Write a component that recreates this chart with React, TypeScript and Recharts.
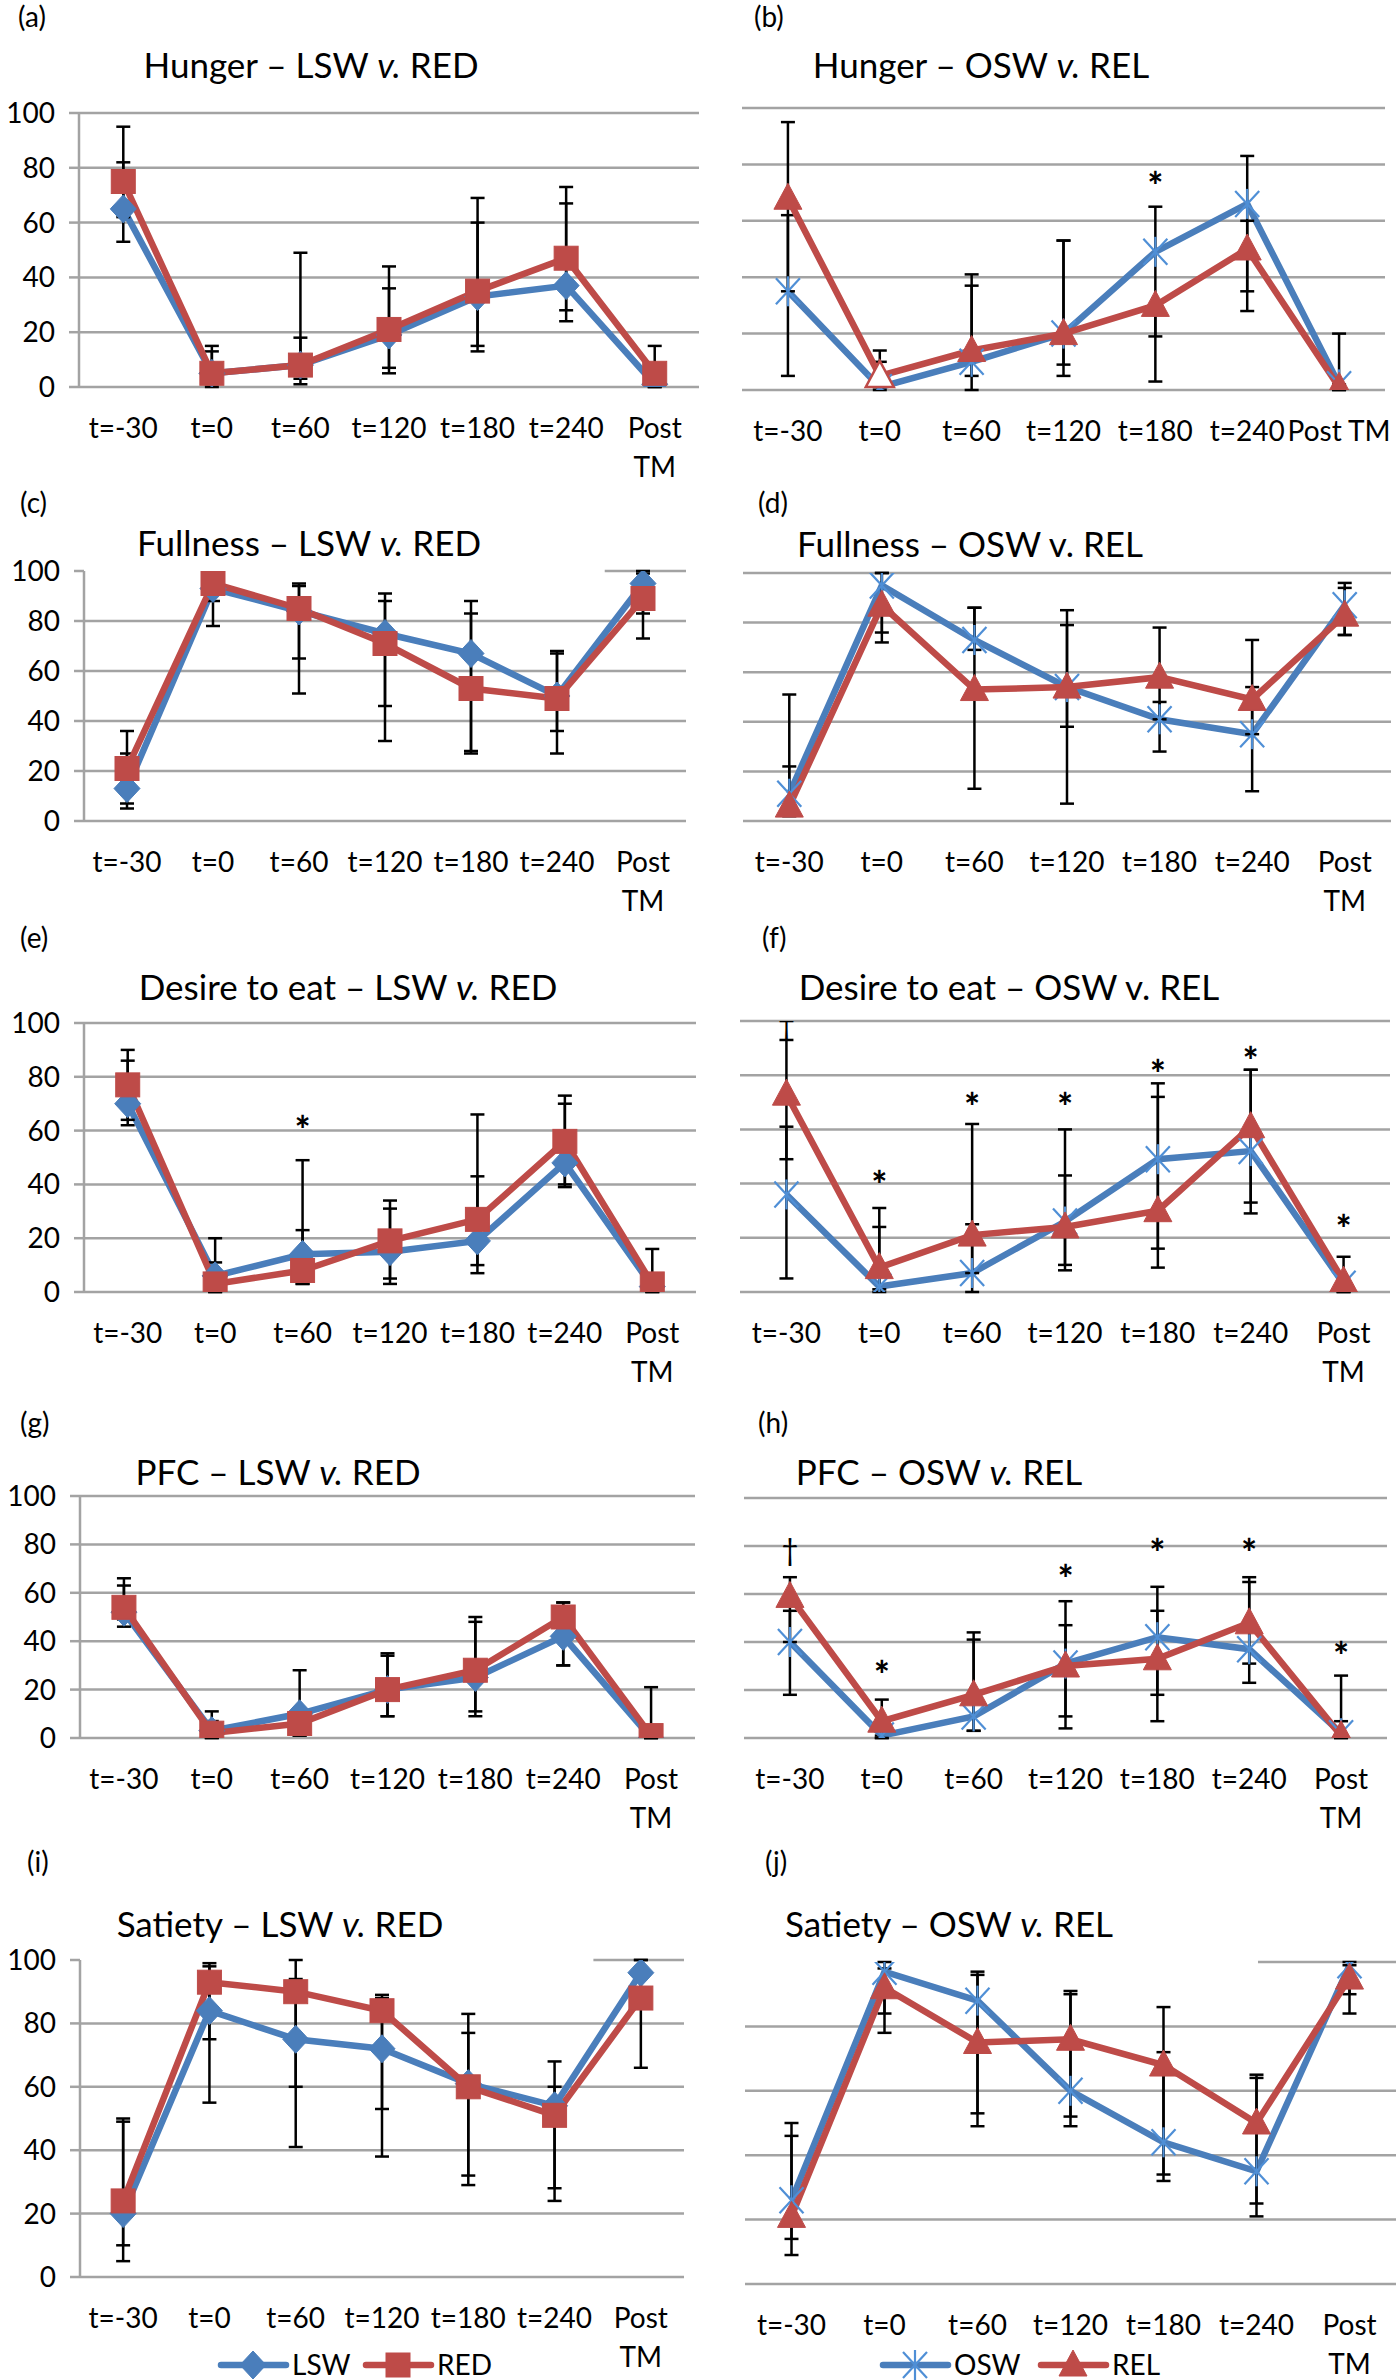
import { CartesianGrid, ErrorBar, Line, LineChart, XAxis, YAxis } from "recharts"

const FONT = "Lato, 'Open Sans', sans-serif"
const BLUE = "#4A7EBB"
const BLUE_LIGHT = "#4F8FD6"
const RED = "#BE4B48"
const GRID = "#A3A3A3"

const categories = ["t=-30", "t=0", "t=60", "t=120", "t=180", "t=240", "Post TM"]
const yTicks = [0, 20, 40, 60, 80, 100]
const bounds = [0, 1, 2, 3, 4, 5, 6, 7]
const centres = [0.5, 1.5, 2.5, 3.5, 4.5, 5.5, 6.5]

// (a) Hunger – LSW v. RED
const hungerLSW = [65, 5, 8, 19, 33, 37, 1]
const hungerRED = [75, 5, 8, 21, 35, 47, 5]
const hungerLSWErr = [[53, 82], [1, 13], [1, 18], [5, 36], [13, 60], [24, 67], [0, 5]]
const hungerREDErr = [[62, 95], [0, 15], [3, 49], [7, 44], [15, 69], [28, 73], [0, 15]]

// (b) Hunger – OSW v. REL
const hungerOSW = [35, 1, 10, 20, 49, 66, 2]
const hungerREL = [68, 5, 14, 20, 30, 50, 1]
const hungerOSWErr = [[5, 62], [0, 10], [0, 37], [9, 53], [19, 65], [35, 83], [0, 20]]
const hungerRELErr = [[35, 95], [1, 14], [5, 41], [5, 53], [3, 30], [28, 60], [0, 2]]
const hungerSig = [null, null, null, null, 75, null, null]
const hungerSigMark = ["", "", "", "", "*", "", ""]

// (c) Fullness – LSW v. RED
const fullLSW = [13, 93, 84, 75, 67, 50, 95]
const fullRED = [21, 95, 85, 71, 53, 49, 89]
const fullLSWErr = [[5, 27], [78, 97], [65, 95], [46, 91], [28, 88], [27, 67], [83, 100]]
const fullREDErr = [[7, 36], [88, 99], [51, 94], [32, 88], [27, 83], [36, 68], [73, 99]]

// (d) Fullness – OSW v. REL
const fullOSW = [11, 95, 73, 54, 41, 35, 87]
const fullREL = [6, 87, 53, 54, 58, 49, 83]
const fullOSWErr = [[2, 51], [76, 100], [69, 86], [7, 79], [28, 48], [12, 54], [75, 96]]
const fullRELErr = [[2, 22], [72, 100], [13, 86], [38, 85], [41, 78], [35, 73], [75, 94]]

// (e) Desire to eat – LSW v. RED
const desireLSW = [70, 6, 14, 15, 19, 48, 2]
const desireRED = [77, 3, 8, 19, 27, 56, 3]
const desireLSWErr = [[62, 86], [0, 20], [3, 23], [3, 31], [7, 43], [39, 70], [0, 3]]
const desireREDErr = [[64, 90], [0, 11], [3, 49], [5, 34], [10, 66], [40, 73], [0, 16]]
const desireSigE = [null, null, 63, null, null, null, null]
const desireSigEMark = ["", "", "*", "", "", "", ""]

// (f) Desire to eat – OSW v. REL
const desireOSW = [36, 2, 7, 26, 49, 52, 3]
const desireREL = [73, 9, 21, 24, 30, 61, 4]
const desireOSWErr = [[5, 61], [0, 24], [0, 25], [8, 43], [16, 77], [29, 82], [0, 13]]
const desireRELErr = [[49, 93], [1, 31], [7, 62], [10, 60], [9, 72], [33, 82], [0, 4]]
const desireSigF = [98, 42, 71, 71, 83, 88, 26]
const desireSigFMark = ["†", "*", "*", "*", "*", "*", "*"]

// (g) PFC – LSW v. RED
const pfcLSW = [52, 3, 10, 20, 25, 42, 0]
const pfcRED = [54, 2, 6, 20, 28, 50, 1]
const pfcLSWErr = [[49, 63], [0, 7], [1, 28], [9, 34], [9, 48], [30, 56], [0, 0]]
const pfcREDErr = [[46, 66], [0, 11], [1, 10], [9, 35], [11, 50], [30, 56], [0, 21]]

// (h) PFC – OSW v. REL
const pfcOSW = [40, 1, 9, 31, 42, 37, 2]
const pfcREL = [59, 7, 18, 30, 33, 48, 1]
const pfcOSWErr = [[18, 53], [0, 1], [3, 41], [4, 57], [18, 63], [23, 65], [0, 7]]
const pfcRELErr = [[40, 67], [0, 16], [3, 44], [9, 47], [7, 53], [31, 67], [0, 26]]
const pfcSig = [78, 29, null, 69, 80, 80, 37]
const pfcSigMark = ["†", "*", "", "*", "*", "*", "*"]

// (i) Satiety – LSW v. RED
const satLSW = [20, 84, 75, 72, 61, 54, 96]
const satRED = [24, 93, 90, 84, 60, 51, 88]
const satLSWErr = [[5, 49], [55, 98], [41, 94], [38, 88], [29, 77], [24, 68], [90, 100]]
const satREDErr = [[10, 50], [75, 99], [60, 100], [53, 89], [32, 83], [28, 60], [66, 100]]

// (j) Satiety – OSW v. REL
const satOSW = [26, 97, 88, 60, 44, 35, 99]
const satREL = [21, 92, 75, 76, 68, 50, 95]
const satOSWErr = [[9, 46], [78, 100], [53, 97], [49, 90], [32, 72], [21, 64], [90, 100]]
const satRELErr = [[14, 50], [84, 98], [49, 96], [52, 91], [34, 86], [25, 65], [84, 99]]

type Spec = {
  id: string
  measure: string
  groups: [string, string]
  italicV: boolean
  s1: number[]
  s2: number[]
  e1: number[][]
  e2: number[][]
  sig?: (number | null)[]
  sigMark?: string[]
}

const specs: Spec[] = [
  { id: "a", measure: "Hunger", groups: ["LSW", "RED"], italicV: true, s1: hungerLSW, s2: hungerRED, e1: hungerLSWErr, e2: hungerREDErr },
  { id: "b", measure: "Hunger", groups: ["OSW", "REL"], italicV: true, s1: hungerOSW, s2: hungerREL, e1: hungerOSWErr, e2: hungerRELErr, sig: hungerSig, sigMark: hungerSigMark },
  { id: "c", measure: "Fullness", groups: ["LSW", "RED"], italicV: true, s1: fullLSW, s2: fullRED, e1: fullLSWErr, e2: fullREDErr },
  { id: "d", measure: "Fullness", groups: ["OSW", "REL"], italicV: false, s1: fullOSW, s2: fullREL, e1: fullOSWErr, e2: fullRELErr },
  { id: "e", measure: "Desire to eat", groups: ["LSW", "RED"], italicV: true, s1: desireLSW, s2: desireRED, e1: desireLSWErr, e2: desireREDErr, sig: desireSigE, sigMark: desireSigEMark },
  { id: "f", measure: "Desire to eat", groups: ["OSW", "REL"], italicV: false, s1: desireOSW, s2: desireREL, e1: desireOSWErr, e2: desireRELErr, sig: desireSigF, sigMark: desireSigFMark },
  { id: "g", measure: "PFC", groups: ["LSW", "RED"], italicV: true, s1: pfcLSW, s2: pfcRED, e1: pfcLSWErr, e2: pfcREDErr },
  { id: "h", measure: "PFC", groups: ["OSW", "REL"], italicV: true, s1: pfcOSW, s2: pfcREL, e1: pfcOSWErr, e2: pfcRELErr, sig: pfcSig, sigMark: pfcSigMark },
  { id: "i", measure: "Satiety", groups: ["LSW", "RED"], italicV: true, s1: satLSW, s2: satRED, e1: satLSWErr, e2: satREDErr },
  { id: "j", measure: "Satiety", groups: ["OSW", "REL"], italicV: true, s1: satOSW, s2: satREL, e1: satOSWErr, e2: satRELErr },
]

// page layout of each panel (plot box, title, panel letter)
type Lay = {
  col: number; x0: number; x1: number; yT: number; yB: number
  tx: number; ty: number; lx: number; ly: number
  wrap: boolean; topFrom?: number; legend?: boolean; hollow?: number[]
}
const layouts: Record<string, Lay> = {
  a: { col: 0, x0: 79, x1: 699, yT: 113, yB: 387, tx: 311, ty: 78, lx: 18, ly: 27, wrap: true },
  b: { col: 1, x0: 742, x1: 1385, yT: 108, yB: 390, tx: 981, ty: 78, lx: 754, ly: 27, wrap: false, hollow: [1] },
  c: { col: 0, x0: 84, x1: 686, yT: 571, yB: 821, tx: 309, ty: 556, lx: 20, ly: 513, wrap: true, topFrom: 0.865 },
  d: { col: 1, x0: 743, x1: 1391, yT: 573, yB: 821, tx: 970, ty: 557, lx: 758, ly: 513, wrap: true },
  e: { col: 0, x0: 84, x1: 696, yT: 1023, yB: 1292, tx: 348, ty: 1000, lx: 20, ly: 948, wrap: true },
  f: { col: 1, x0: 740, x1: 1390, yT: 1021, yB: 1292, tx: 1009, ty: 1000, lx: 762, ly: 948, wrap: true },
  g: { col: 0, x0: 80, x1: 695, yT: 1496, yB: 1738, tx: 278, ty: 1485, lx: 20, ly: 1433, wrap: true },
  h: { col: 1, x0: 744, x1: 1387, yT: 1498, yB: 1738, tx: 939, ty: 1485, lx: 758, ly: 1433, wrap: true },
  i: { col: 0, x0: 80, x1: 684, yT: 1960, yB: 2277, tx: 280, ty: 1937, lx: 27, ly: 1872, wrap: true, topFrom: 0.85, legend: true },
  j: { col: 1, x0: 745, x1: 1396, yT: 1962, yB: 2284, tx: 949, ty: 1937, lx: 765, ly: 1872, wrap: true, topFrom: 0.788, legend: true },
}

const PAD_TOP = 30
const LAB_H = 100

function Marker({ shape, cx, cy, hollow }: { shape: string; cx: number; cy: number; hollow?: boolean }) {
  if (shape === "diamond")
    return <polygon points={`${cx},${cy - 14} ${cx + 13},${cy} ${cx},${cy + 14} ${cx - 13},${cy}`} fill={BLUE} stroke={BLUE} strokeWidth={1} />
  if (shape === "square")
    return <rect x={cx - 12} y={cy - 12} width={24} height={24} fill={RED} stroke={RED} strokeWidth={1} />
  if (shape === "triangle")
    return (
      <polygon points={`${cx},${cy - 15} ${cx + 14},${cy + 11} ${cx - 14},${cy + 11}`}
        fill={hollow ? "#fff" : RED} stroke={RED} strokeWidth={hollow ? 2.5 : 1} />
    )
  return (
    <g stroke={BLUE_LIGHT} strokeWidth={2.2}>
      <line x1={cx - 12} y1={cy - 13} x2={cx + 12} y2={cy + 13} />
      <line x1={cx - 12} y1={cy + 13} x2={cx + 12} y2={cy - 13} />
      <line x1={cx} y1={cy - 15} x2={cx} y2={cy + 15} />
    </g>
  )
}

const makeDot = (shape: string, hollow: number[] = []) => (p: any) => {
  const key = `${shape}-${p.index}`
  if (p.cx == null || p.cy == null || p.value == null) return <g key={key} />
  return (
    <g key={key}>
      <Marker shape={shape} cx={p.cx} cy={p.cy} hollow={hollow.includes(p.index)} />
    </g>
  )
}

const makeSigDot = (marks: string[]) => (p: any) => {
  const key = `sig-${p.index}`
  if (p.cx == null || p.cy == null || p.value == null) return <g key={key} />
  const m = marks[p.index]
  const dagger = m === "†"
  return (
    <text key={key} x={p.cx} y={p.cy + (dagger ? 10 : 21)} textAnchor="middle" fontFamily={FONT}
      fontSize={dagger ? 30 : 37} fontWeight={dagger ? 400 : 900} fill="#000">
      {m}
    </text>
  )
}

const gridLine = (topY: number, topFrom?: number) => (g: any) => {
  const isTop = Math.abs(g.y1 - topY) < 1
  const x1 = isTop && topFrom != null ? g.x1 + (g.x2 - g.x1) * topFrom : g.x1
  return <line key={`gl-${g.index}-${g.y1}`} x1={x1} x2={g.x2} y1={g.y1} y2={g.y2} stroke={GRID} strokeWidth={2.5} />
}

function CatTick(props: any) {
  const { x, y, payload, wrap } = props
  const v = categories[Math.floor(Number(payload.value))] ?? ""
  const lines = wrap && v === "Post TM" ? ["Post", "TM"] : [v]
  return (
    <text x={x} y={y} textAnchor="middle" fontSize={28} fill="#000" fontFamily={FONT}>
      {lines.map((l, k) => (
        <tspan key={k} x={x} y={y + 51 + k * 39}>{l}</tspan>
      ))}
    </text>
  )
}

function Panel({ spec, lay }: { spec: Spec; lay: Lay }) {
  const left = lay.col * 700
  const top = lay.yT - PAD_TOP
  const height = lay.yB - top + LAB_H
  const isLeft = lay.col === 0
  const lsw = spec.groups[0] === "LSW"
  const rows = categories.map((t, i) => ({
    t,
    pos: i + 0.5,
    s1: spec.s1[i],
    s2: spec.s2[i],
    e1: [spec.s1[i] - spec.e1[i][0], spec.e1[i][1] - spec.s1[i]],
    e2: [spec.s2[i] - spec.e2[i][0], spec.e2[i][1] - spec.s2[i]],
    sig: spec.sig ? spec.sig[i] : null,
  }))
  return (
    <div style={{ position: "absolute", left, top }}>
      <LineChart
        width={700}
        height={height}
        data={rows}
        margin={{ top: PAD_TOP, right: left + 700 - lay.x1, bottom: 0, left: isLeft ? 0 : lay.x0 - left }}
      >
        <CartesianGrid xAxisId="bounds" vertical={false} horizontal={gridLine(PAD_TOP, lay.topFrom)} />
        <XAxis
          xAxisId="bounds"
          type="number"
          dataKey="pos"
          domain={[0, 7]}
          ticks={bounds}
          allowDataOverflow
          tick={false}
          tickSize={10}
          tickLine={{ stroke: GRID, strokeWidth: 2.5 }}
          axisLine={false}
          height={0}
        />
        <XAxis
          xAxisId="labels"
          type="number"
          dataKey="pos"
          domain={[0, 7]}
          ticks={centres}
          interval={0}
          allowDataOverflow
          tickLine={false}
          axisLine={false}
          tickSize={0}
          tickMargin={0}
          height={LAB_H}
          tick={(tp: any) => <CatTick {...tp} wrap={lay.wrap} />}
        />
        <YAxis
          domain={[0, 100]}
          ticks={yTicks}
          allowDataOverflow
          interval={0}
          hide={!isLeft}
          width={isLeft ? lay.x0 : 0}
          tickSize={10}
          tickMargin={14}
          tickLine={{ stroke: GRID, strokeWidth: 2.5 }}
          axisLine={{ stroke: GRID, strokeWidth: 2.5 }}
          tick={{ fontSize: 28, fill: "#000", fontFamily: FONT }}
        />
        <Line xAxisId="bounds" dataKey="s1" stroke={BLUE} strokeWidth={6.5} dot={makeDot(lsw ? "diamond" : "star")} activeDot={false} isAnimationActive={false}>
          <ErrorBar dataKey="e1" width={7} strokeWidth={2.5} stroke="#000" direction="y" isAnimationActive={false} />
        </Line>
        <Line xAxisId="bounds" dataKey="s2" stroke={RED} strokeWidth={6.5} dot={makeDot(lsw ? "square" : "triangle", lay.hollow)} activeDot={false} isAnimationActive={false}>
          <ErrorBar dataKey="e2" width={7} strokeWidth={2.5} stroke="#000" direction="y" isAnimationActive={false} />
        </Line>
        {spec.sig && spec.sigMark && (
          <Line xAxisId="bounds" dataKey="sig" stroke="none" dot={makeSigDot(spec.sigMark)} activeDot={false} isAnimationActive={false} />
        )}
      </LineChart>
    </div>
  )
}

function LegendEntry({ x, y, shape, color, label }: { x: number; y: number; shape: string; color: string; label: string }) {
  return (
    <g>
      <line x1={x} x2={x + 65} y1={y} y2={y} stroke={color} strokeWidth={6.5} strokeLinecap="round" />
      <Marker shape={shape} cx={x + 32} cy={y} />
      <text x={x + 71} y={y + 10} fontSize={28} fontFamily={FONT} fill="#000">{label}</text>
    </g>
  )
}

export default function App() {
  return (
    <div style={{ position: "absolute", left: 0, top: 0, width: 1400, height: 2380, background: "#fff" }}>
      {specs.map((s) => (
        <Panel key={s.id} spec={s} lay={layouts[s.id]} />
      ))}
      <svg width={1400} height={2380} style={{ position: "absolute", left: 0, top: 0, pointerEvents: "none" }}>
        {specs.map((s) => {
          const lay = layouts[s.id]
          return (
            <g key={s.id}>
              <text x={lay.lx} y={lay.ly} fontSize={28} fontFamily={FONT} fill="#000">({s.id})</text>
              <text x={lay.tx} y={lay.ty} textAnchor="middle" fontSize={35} fontFamily={FONT} fill="#000">
                {`${s.measure} – ${s.groups[0]} `}
                <tspan fontStyle={s.italicV ? "italic" : "normal"}>v.</tspan>
                {` ${s.groups[1]}`}
              </text>
              {lay.legend && (
                <g>
                  <LegendEntry x={lay.col === 0 ? 221 : 883} y={2365} shape={s.groups[0] === "LSW" ? "diamond" : "star"} color={BLUE} label={s.groups[0]} />
                  <LegendEntry x={lay.col === 0 ? 366 : 1041} y={2365} shape={s.groups[0] === "LSW" ? "square" : "triangle"} color={RED} label={s.groups[1]} />
                </g>
              )}
            </g>
          )
        })}
      </svg>
    </div>
  )
}
